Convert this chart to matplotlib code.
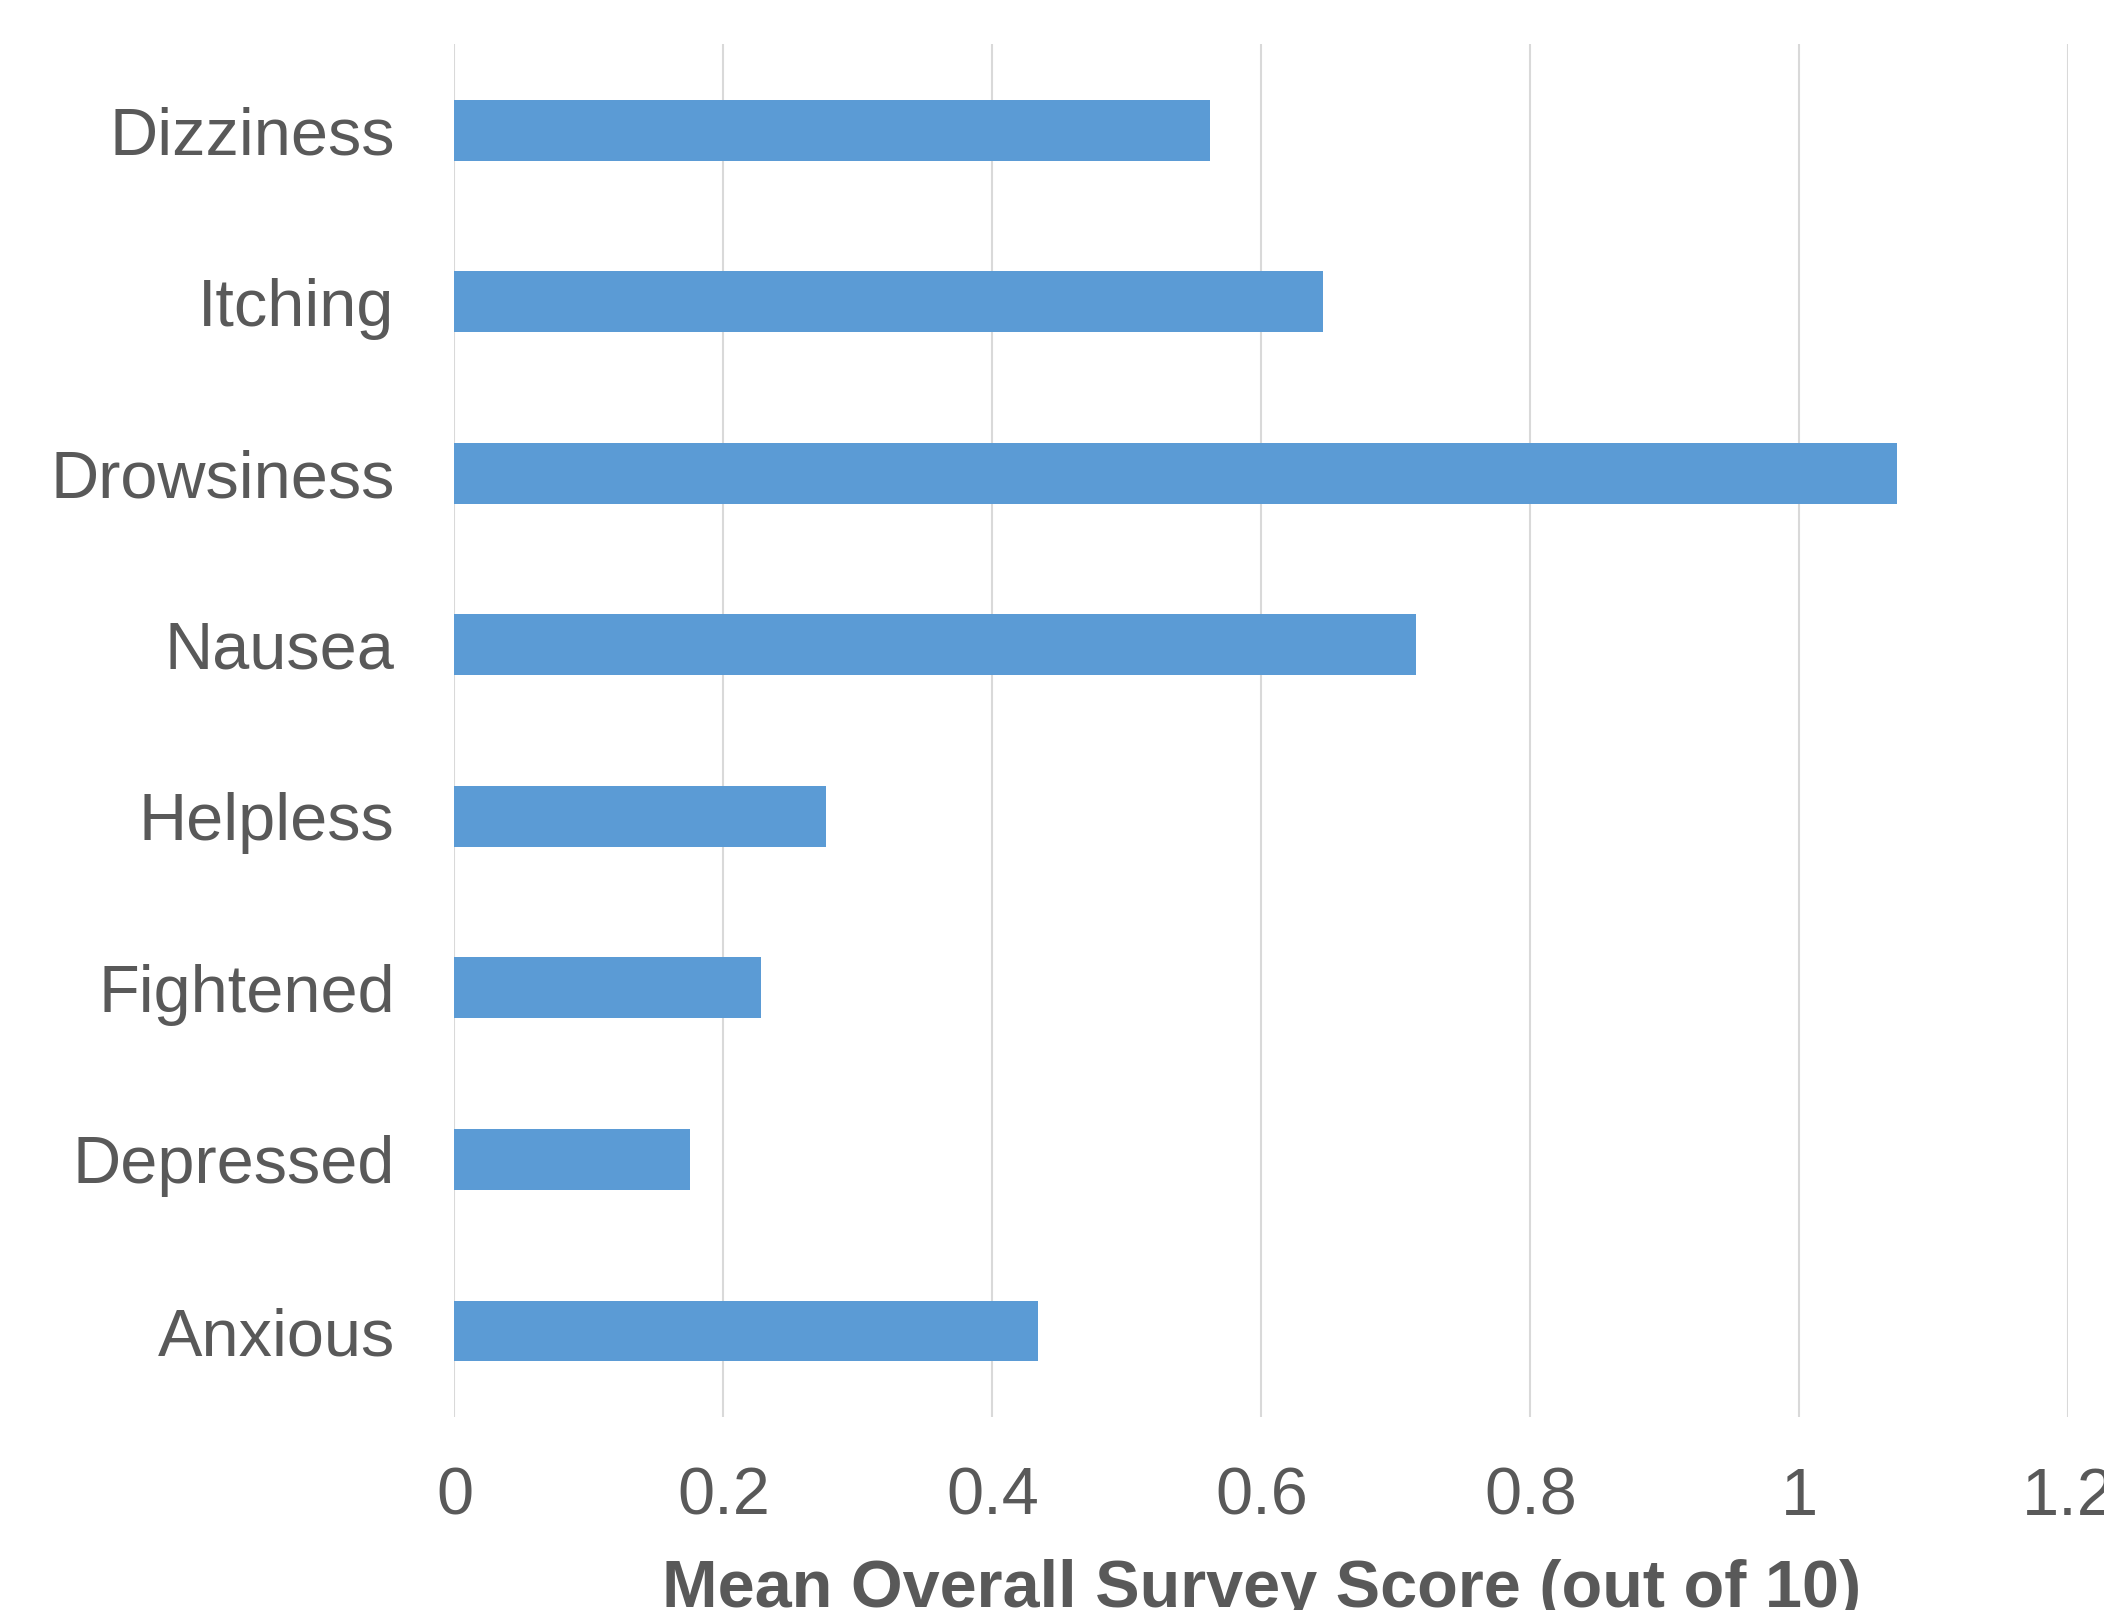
import matplotlib
matplotlib.use("Agg")
import matplotlib.pyplot as plt

categories = ["Dizziness", "Itching", "Drowsiness", "Nausea", "Helpless",
              "Fightened", "Depressed", "Anxious"]
values = [0.562, 0.646, 1.073, 0.715, 0.276, 0.228, 0.175, 0.434]
xticks = [0, 0.2, 0.4, 0.6, 0.8, 1.0, 1.2]
xticklabels = ["0", "0.2", "0.4", "0.6", "0.8", "1", "1.2"]

plt.rcParams['font.family'] = ['Liberation Sans', 'DejaVu Sans']
text_color = "#595959"

fig = plt.figure(figsize=(21.04, 16.10), dpi=100)
ax = fig.add_axes([0.216, 0.12, 0.767, 0.8525])

ypos = list(range(len(categories)))
ax.barh(ypos, values, height=0.355, color="#5B9BD5", zorder=3)
ax.set_ylim(len(categories) - 0.5, -0.5)
ax.set_xlim(0, 1.2)
ax.set_yticks(ypos)
ax.set_yticklabels(categories, fontsize=48, color=text_color)
ax.set_xticks(xticks)
ax.set_xticklabels(xticklabels, fontsize=48, color=text_color)
ax.tick_params(axis='y', length=0, pad=43)
ax.tick_params(axis='x', length=0, pad=36)
for lab in ax.get_xticklabels():
    lab.set_clip_on(False)
ax.grid(axis='x', color="#D9D9D9", linewidth=1.5, zorder=0)
ax.grid(axis='y', visible=False)
for s in ax.spines.values():
    s.set_visible(False)
ax.set_xlabel("Mean Overall Survey Score (out of 10)", fontsize=48,
              fontweight='bold', color=text_color, labelpad=22)

fig.savefig("out.png", dpi=100)
